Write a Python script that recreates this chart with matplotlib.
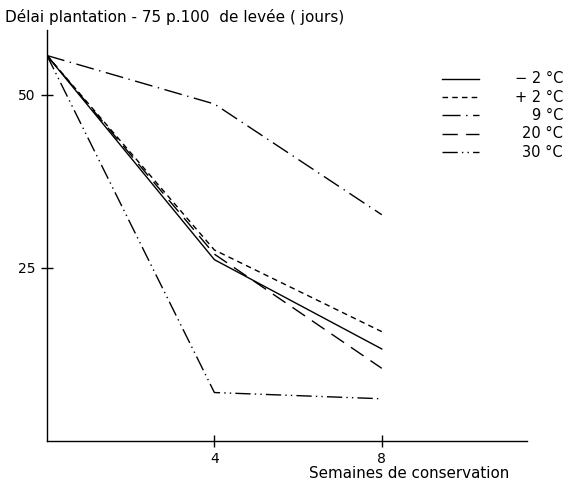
import matplotlib
matplotlib.use("Agg")
import matplotlib.pyplot as plt
from matplotlib.lines import Line2D

# weeks of storage
semaines = [0, 4, 8]

# delay plantation -> 75 % emergence (days), one list per storage temperature
moins2 = [55.7, 26.2, 13.3]
plus2 = [55.7, 27.6, 15.8]
t9 = [55.7, 48.7, 32.7]
t20 = [55.7, 27.0, 10.5]
t30 = [55.7, 7.0, 6.1]

labels = ["\u2212 2 \u00b0C", "+ 2 \u00b0C", "9 \u00b0C", "20 \u00b0C", "30 \u00b0C"]
series = [moins2, plus2, t9, t20, t30]
styles = ["-", (0, (4, 3)), (0, (13, 4, 1, 4)), (0, (11, 6)), (0, (11, 3, 1, 3, 1, 3))]

plt.rcParams['font.family'] = ['DejaVu Sans']

fig = plt.figure(figsize=(5.7, 4.83), dpi=100)
ax = fig.add_axes([0.0825, 0.087, 0.842, 0.851])

for vals, ls in zip(series, styles):
    ax.plot(semaines, vals, color="black", lw=1.0, linestyle=ls)

ax.set_xlim(0, 11.47)
ax.set_ylim(0, 59.4)
ax.spines['top'].set_visible(False)
ax.spines['right'].set_visible(False)
for s in ['left', 'bottom']:
    ax.spines[s].set_linewidth(1.0)
ax.set_xticks([4, 8])
ax.set_yticks([25, 50])
ax.tick_params(direction='inout', length=8, width=1, labelsize=10, pad=4)

# title and axis label
fig.text(0.009, 0.965, "D\u00e9lai plantation - 75 p.100  de lev\u00e9e ( jours)",
         fontsize=11, ha='left', va='center')
ax.text(0.754, -0.078, "Semaines de conservation", transform=ax.transAxes,
        fontsize=10.9, ha='center', va='center')

# legend drawn by hand so the labels are right aligned
y0 = 0.881
for i, (lab, ls) in enumerate(zip(labels, styles)):
    y = y0 - i * 0.0445
    ax.add_line(Line2D([0.823, 0.90], [y, y], transform=ax.transAxes,
                       color="black", lw=1.0, linestyle=ls, clip_on=False))
    ax.text(1.075, y, lab, transform=ax.transAxes, fontsize=10.5,
            ha='right', va='center')

fig.savefig("out.png", dpi=100)
